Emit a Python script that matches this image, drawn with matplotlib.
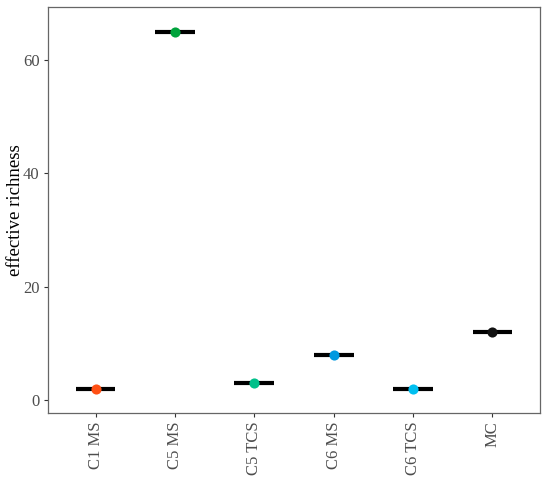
import numpy as np
import matplotlib
matplotlib.use("Agg")
import matplotlib.pyplot as plt

plt.rcParams['font.family'] = ['Liberation Serif', 'DejaVu Serif']

groups = ["C1 MS", "C5 MS", "C5 TCS", "C6 MS", "C6 TCS", "MC"]
richness = [2, 65, 3, 8, 2, 12]
colors = ["#FF5014", "#00A33C", "#00C08A", "#0099E0", "#00BFF0", "#111111"]

fig = plt.figure(figsize=(5.5, 4.87), dpi=100)
ax = fig.add_axes([48 / 550, 1 - 413 / 487, 492 / 550, 406 / 487])

x = np.arange(len(groups))
# crossbar (median line) for each group
ax.hlines(richness, x - 0.25, x + 0.25, colors="black", linewidth=3, zorder=2)
for xi, yi, c in zip(x, richness, colors):
    ax.plot(xi, yi, "o", color=c, markersize=7.3, markeredgewidth=0, zorder=3)

ax.set_xlim(-0.6, 5.6)
ax.set_ylim(-2.3, 69.4)
ax.set_yticks([0, 20, 40, 60])
ax.set_xticks(x)
ax.set_xticklabels(groups, rotation=90)

ax.tick_params(axis="both", labelsize=12, labelcolor="#4d4d4d", color="#333333",
               length=3, width=0.8, pad=3)
for s in ax.spines.values():
    s.set_color("#666666")
    s.set_linewidth(0.9)

ax.set_ylabel("effective richness", fontsize=13.5, color="black")
ax.yaxis.set_label_coords(-24 / 492, 0.5)

fig.savefig("out.png", dpi=100)
